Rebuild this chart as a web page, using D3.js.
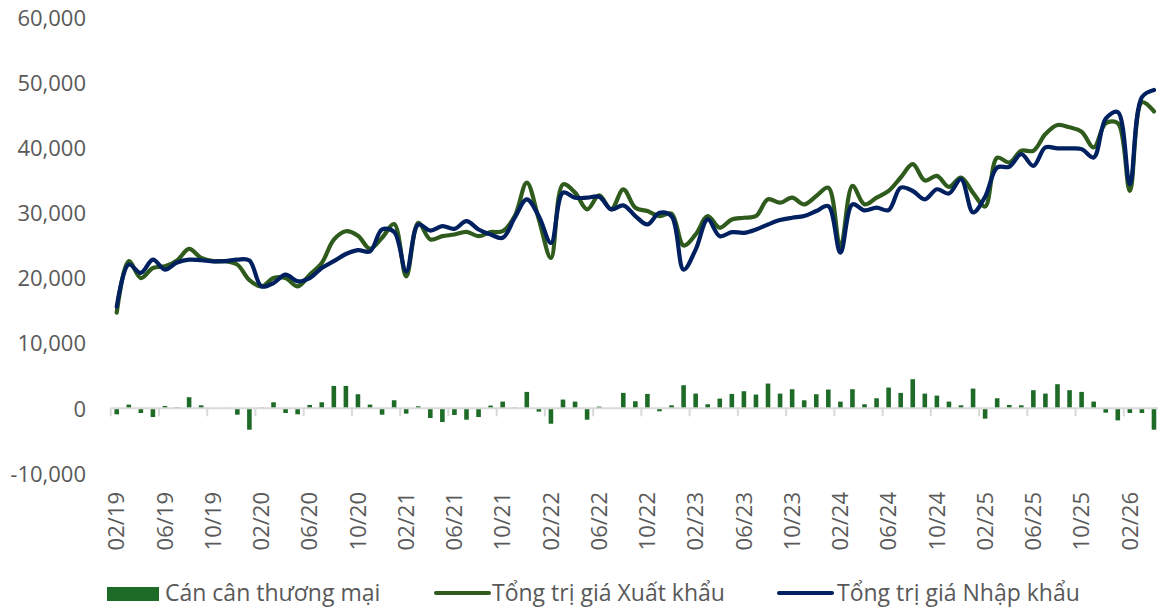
<!DOCTYPE html>
<html lang="vi">
<head>
<meta charset="UTF-8">
<title>Cán cân thương mại</title>
<script src="https://d3js.org/d3.v7.min.js"></script>
<style>
  html, body { margin: 0; padding: 0; background: #fff; }
  svg { display: block; }
  .lbl { fill: #595959; font-size: 22px; font-family: "Open Sans", "Noto Sans", sans-serif; }
  .leg { font-size: 23px; }
</style>
</head>
<body>
<div id="chart"></div>
<script>
const months = [
  "02/19","03/19","04/19","05/19","06/19","07/19","08/19","09/19","10/19","11/19","12/19",
  "01/20","02/20","03/20","04/20","05/20","06/20","07/20","08/20","09/20","10/20","11/20","12/20",
  "01/21","02/21","03/21","04/21","05/21","06/21","07/21","08/21","09/21","10/21","11/21","12/21",
  "01/22","02/22","03/22","04/22","05/22","06/22","07/22","08/22","09/22","10/22","11/22","12/22",
  "01/23","02/23","03/23","04/23","05/23","06/23","07/23","08/23","09/23","10/23","11/23","12/23",
  "01/24","02/24","03/24","04/24","05/24","06/24","07/24","08/24","09/24","10/24","11/24","12/24",
  "01/25","02/25","03/25","04/25","05/25","06/25","07/25","08/25","09/25","10/25","11/25","12/25",
  "01/26","02/26","03/26","04/26"
];

// Cán cân thương mại (bars)
const balance = [
  -925, 565, -720, -1340, 360, 150, 1700, 460, 50, 60, -980,
  -3290, 100, 925, -720, -925, 510, 925, 3440, 3440, 2160, 565, -980,
  1235, -820, 310, -1490, -2110, -1030, -1750, -1340, 410, 1030, 100, 2520,
  -510, -2370, 1340, 1030, -1750, 260, 30, 2370, 1080, 2210, -460, 460,
  3550, 2260, 620, 1490, 2210, 2620, 2110, 3800, 2260, 2930, 1230, 2160,
  2880, 1030, 2930, 620, 1540, 3190, 2370, 4470, 2260, 1950, 1030, 460,
  3030, -1590, 1540, 510, 460, 2780, 2260, 3700, 2780, 2520, 1030, -670,
  -1850, -720, -720, -3290
];

// Tổng trị giá Xuất khẩu
const exportsV = [
  14700, 22600, 20000, 21550, 21800, 22700, 24500, 23100, 22600, 22600, 22070,
  19700, 18720, 20000, 20000, 18720, 20520, 22330, 25900, 27200, 26500, 24500, 26190,
  28300, 20260, 28500, 25930, 26440, 26700, 27110, 26440, 27060, 27200, 29530, 34670,
  29000, 23100, 34400, 33130, 30560, 32700, 30560, 33640, 30800, 30300, 29530, 29900,
  25000, 26700, 29530, 27730, 29010, 29270, 29530, 32100, 31580, 32360, 31330, 32610,
  33900, 24700, 34160, 31330, 32360, 33390, 35450, 37500, 35000, 35700, 34000, 35450,
  33100, 31000, 38500, 37760, 39560, 39560, 42130, 43520, 43160, 42490, 40070, 43800,
  43800, 33380, 47020, 45600
];

// Tổng trị giá Nhập khẩu
const importsV = [
  15600, 22070, 20800, 22840, 21300, 22400, 22840, 22740, 22580, 22600, 22840,
  22700, 18720, 19240, 20520, 19500, 20000, 21550, 22600, 23700, 24300, 24100, 27470,
  27100, 21040, 28200, 27300, 27980, 27570, 28750, 27470, 26700, 26190, 29270, 32100,
  29500, 25400, 33130, 32360, 32360, 32500, 30560, 31170, 29530, 28240, 30040, 29500,
  21300, 24380, 29010, 26440, 27060, 26960, 27470, 28240, 28910, 29270, 29530, 30300,
  31070, 23900, 31330, 30400, 30820, 30450, 33900, 33380, 32100, 33640, 33000, 35190,
  30100, 32500, 37000, 37100, 39040, 37240, 40070, 39920, 39920, 39810, 38530, 44500,
  45500, 34410, 47790, 48900
];

const yTicks = [-10000, 0, 10000, 20000, 30000, 40000, 50000, 60000];
const xTickLabels = ["02/19","06/19","10/19","02/20","06/20","10/20","02/21","06/21","10/21",
  "02/22","06/22","10/22","02/23","06/23","10/23","02/24","06/24","10/24","02/25","06/25","10/25","02/26"];
const seriesNames = ["Cán cân thương mại", "Tổng trị giá Xuất khẩu", "Tổng trị giá Nhập khẩu"];

const W = 1158, H = 608;
const barColor = "#1d6b27", expColor = "#2f5b1c", impColor = "#002060";

const svg = d3.select("#chart").append("svg")
  .attr("width", W).attr("height", H);

const x = d3.scaleBand().domain(months).range([110.7, 1160]);
const y = d3.scaleLinear().domain([-10000, 60000]).range([473.4, 17.7]);
const bw = x.bandwidth();
const barW = bw * 0.38;
const cx = m => x(m) + bw / 2;

// y axis labels
const fmt = d3.format(",");
svg.append("g")
  .attr("transform", "translate(86,0)")
  .call(d3.axisLeft(y).tickValues(yTicks).tickSize(0).tickPadding(0)
    .tickFormat(d => fmt(d).replace("\u2212", "-")))
  .call(g => g.select(".domain").remove())
  .attr("font-family", null)
  .attr("font-size", null)
  .selectAll("text")
  .attr("class", "lbl")
  .attr("fill", null)
  .attr("dy", "0.35em");

// bars
svg.append("g").selectAll("rect")
  .data(months.map((m, i) => ({ m, v: balance[i] })))
  .join("rect")
  .attr("x", d => cx(d.m) - barW / 2)
  .attr("width", barW)
  .attr("y", d => y(Math.max(0, d.v)))
  .attr("height", d => Math.abs(y(d.v) - y(0)))
  .attr("fill", barColor);

// x axis line + tick marks at category boundaries every 4 months
const y0 = y(0);
const axisG = svg.append("g");
axisG.append("line")
  .attr("x1", x.range()[0]).attr("x2", x.range()[1])
  .attr("y1", y0).attr("y2", y0)
  .attr("stroke", "#d9d9d9").attr("stroke-width", 2);
axisG.selectAll(".tk")
  .data(months.filter((m, i) => i % 4 === 0))
  .join("line")
  .attr("class", "tk")
  .attr("x1", d => x(d)).attr("x2", d => x(d))
  .attr("y1", y0).attr("y2", y0 + 8)
  .attr("stroke", "#d9d9d9").attr("stroke-width", 2);

// x labels
svg.append("g").selectAll("text")
  .data(xTickLabels)
  .join("text")
  .attr("class", "lbl")
  .attr("transform", d => `translate(${cx(d)},492) rotate(-90)`)
  .attr("text-anchor", "end")
  .attr("dy", "0.35em")
  .text(d => d);

// lines
const line = d3.line()
  .x(d => cx(d.m))
  .y(d => y(d.v))
  .curve(d3.curveCatmullRom.alpha(0.5));

[[exportsV, expColor], [importsV, impColor]].forEach(([vals, col]) => {
  svg.append("path")
    .datum(months.map((m, i) => ({ m, v: vals[i] })))
    .attr("d", line)
    .attr("fill", "none")
    .attr("stroke", col)
    .attr("stroke-width", 4.2)
    .attr("stroke-linejoin", "round")
    .attr("stroke-linecap", "round");
});

// legend
const leg = svg.append("g");
leg.append("rect")
  .attr("x", 107).attr("y", 587).attr("width", 52).attr("height", 14)
  .attr("fill", barColor);
leg.append("text").attr("class", "lbl leg").attr("x", 165).attr("y", 601).text(seriesNames[0]);

leg.append("line")
  .attr("x1", 436).attr("x2", 489).attr("y1", 593).attr("y2", 593)
  .attr("stroke", expColor).attr("stroke-width", 4).attr("stroke-linecap", "round");
leg.append("text").attr("class", "lbl leg").attr("x", 492).attr("y", 601).text(seriesNames[1]);

leg.append("line")
  .attr("x1", 779).attr("x2", 832).attr("y1", 593).attr("y2", 593)
  .attr("stroke", impColor).attr("stroke-width", 4).attr("stroke-linecap", "round");
leg.append("text").attr("class", "lbl leg").attr("x", 837).attr("y", 601).text(seriesNames[2]);
</script>
</body>
</html>
